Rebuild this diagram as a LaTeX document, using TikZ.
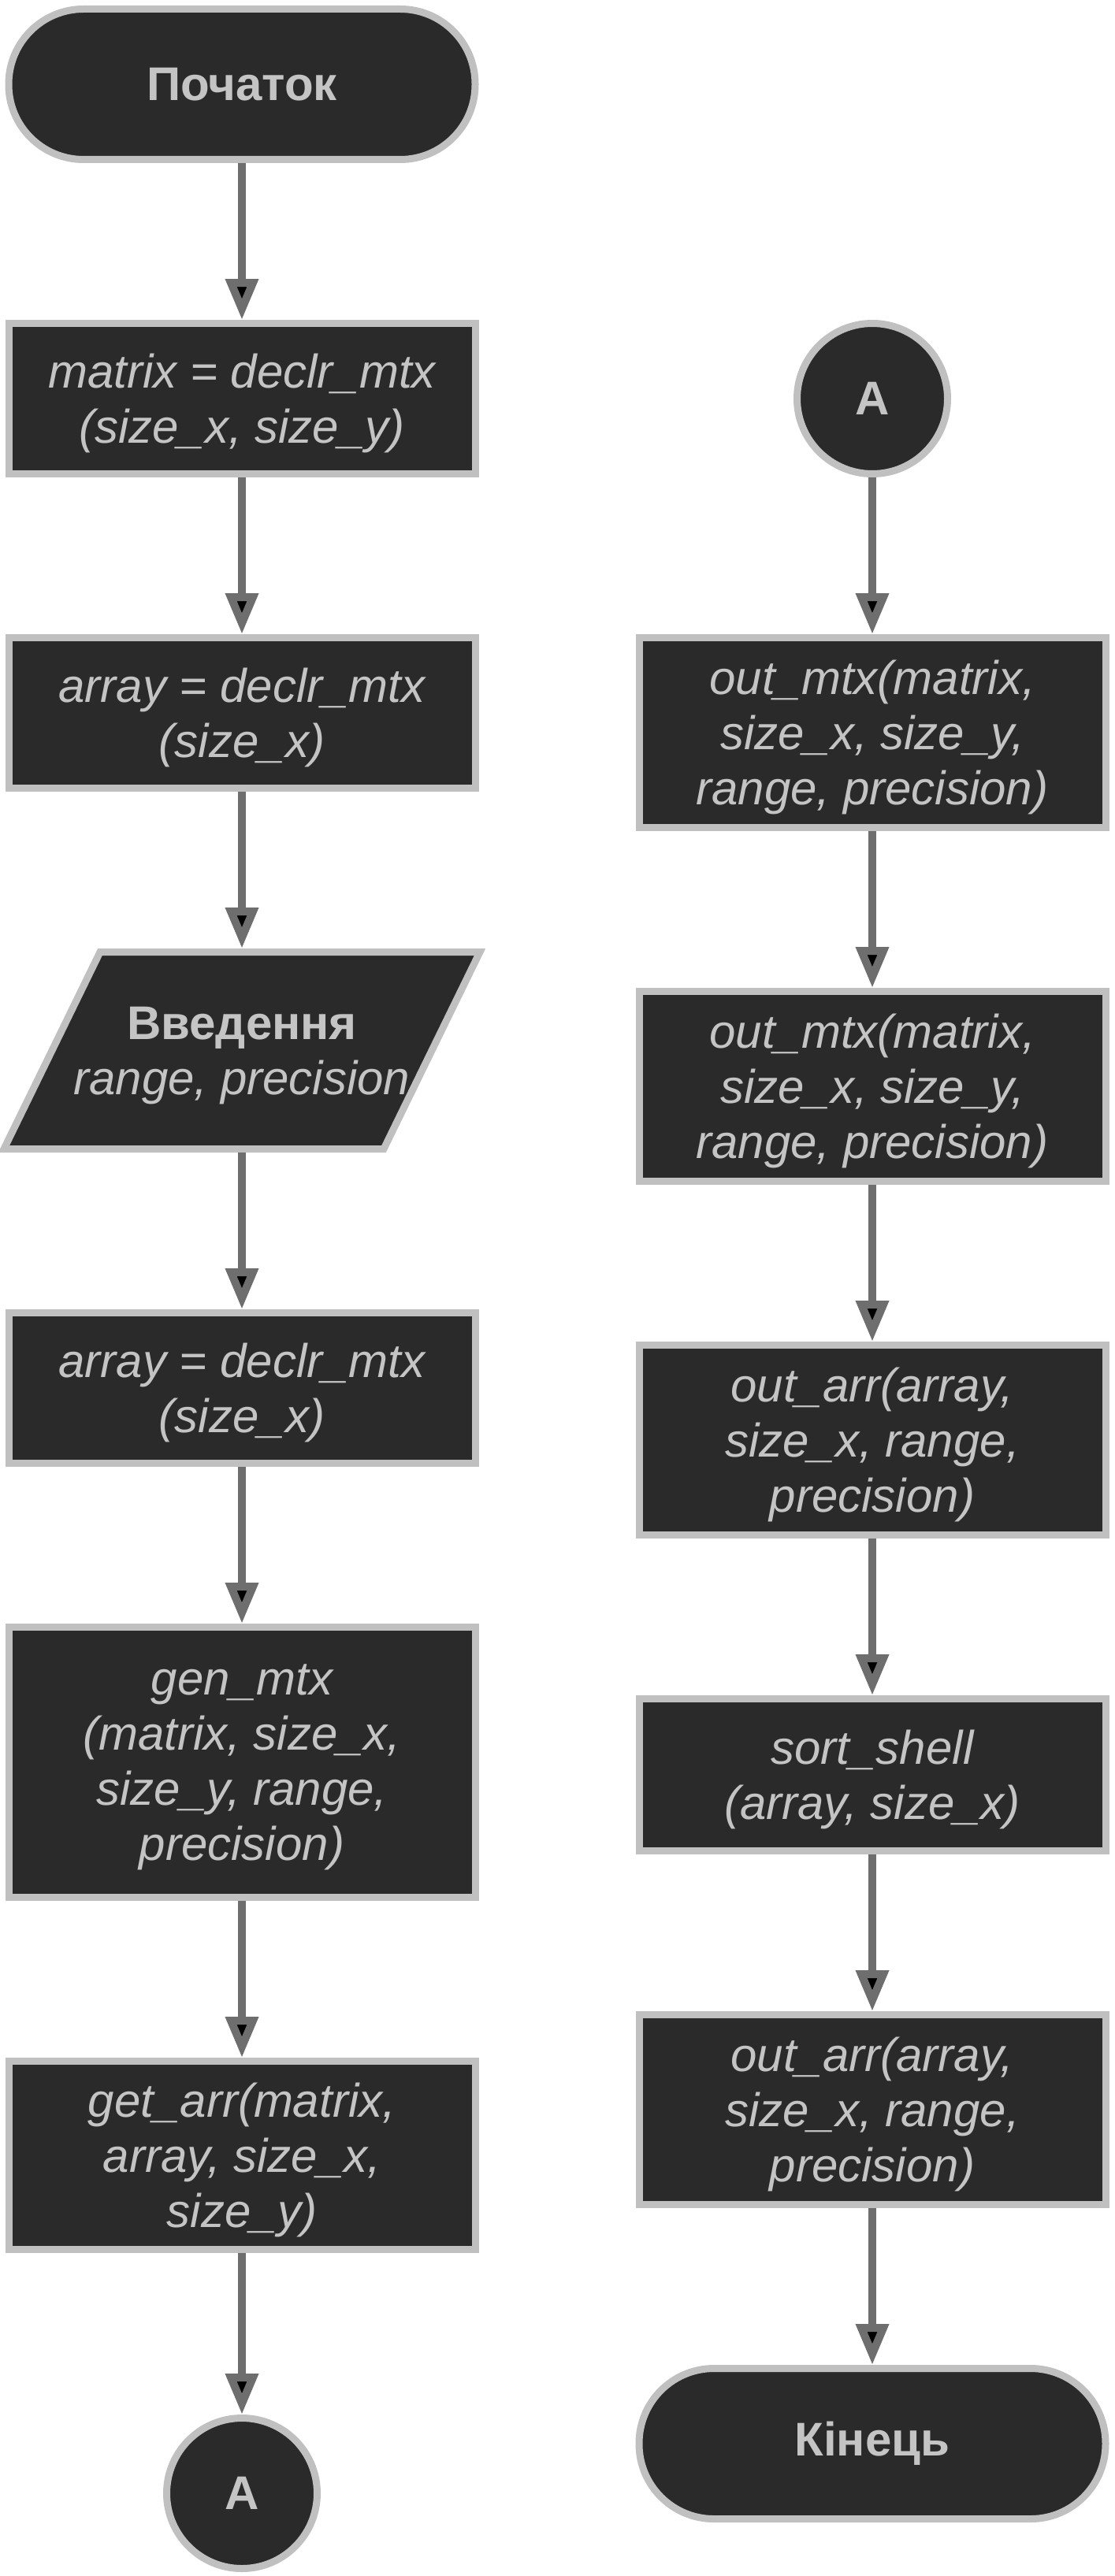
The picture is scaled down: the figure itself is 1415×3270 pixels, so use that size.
\documentclass[tikz,border=0pt]{standalone}
\usepackage{fontspec}
\setmainfont{Liberation Sans}
\usetikzlibrary{positioning,arrows.meta,backgrounds}
\definecolor{boxfill}{HTML}{2A2A2A}
\definecolor{boxline}{HTML}{C0C0C0}
\definecolor{boxtext}{HTML}{C4C4C4}
\definecolor{arrline}{HTML}{6E6E6E}
\tikzset{
	base/.style={draw=boxline,fill=boxfill,line width=9pt,text=boxtext,align=center,inner sep=0pt,
		font=\fontsize{60}{70}\selectfont\itshape},
	proc/.style={base,rectangle,minimum width=592pt,text depth=-13pt},
	term/.style={base,rectangle,rounded corners=95pt,minimum width=592pt,minimum height=191pt,
		font=\fontsize{60}{70}\selectfont\bfseries},
	conn/.style={base,circle,minimum size=191pt,font=\fontsize{60}{70}\selectfont\bfseries,text depth=-14pt},
	inout/.style={base,draw=none,fill=none,rectangle,minimum width=604pt,minimum height=250pt,text depth=-13pt},
	parabox/.style={draw=boxline,fill=boxfill,line width=9pt},
	flow/.style={-{Triangle[width=40pt,length=52pt]},line width=10pt,draw=arrline}
}
\begin{document}
\begin{tikzpicture}[x=1pt,y=1pt,node distance=199pt]
	\useasboundingbox (0,0) rectangle (1415,-3270);
	% left column
	\node[term] (start) at (307,-107) {Початок};
	\node[proc,minimum height=191pt,below=of start] (decmtx) {matrix = declr\_mtx\\(size\_x, size\_y)};
	\node[proc,minimum height=191pt,below=of decmtx] (decarr) {array = declr\_mtx\\(size\_x)};
	\node[inout,below=of decarr] (input) {{\upshape\bfseries Введення}\\range, precision};
	\node[proc,minimum height=191pt,below=of input] (decarrb) {array = declr\_mtx\\(size\_x)};
	\node[proc,minimum height=343pt,below=of decarrb] (genmtx) {gen\_mtx\\(matrix, size\_x,\\size\_y, range,\\precision)};
	\node[proc,minimum height=239pt,below=of genmtx] (getarr) {get\_arr(matrix,\\array, size\_x,\\size\_y)};
	\node[conn,below=205pt of getarr] (conA) {A};
	\begin{scope}[on background layer]
		\draw[parabox] ([shift={(-180,125)}]input.center) -- ([shift={(302,125)}]input.center)
			-- ([shift={(180,-125)}]input.center) -- ([shift={(-302,-125)}]input.center) -- cycle;
	\end{scope}
	% right column
	\node[conn] (conAb) at (1107,-506) {A};
	\node[proc,minimum height=241pt,below=of conAb] (outmtx) {out\_mtx(matrix,\\size\_x, size\_y,\\range, precision)};
	\node[proc,minimum height=241pt,below=of outmtx] (outmtxb) {out\_mtx(matrix,\\size\_x, size\_y,\\range, precision)};
	\node[proc,minimum height=241pt,below=of outmtxb] (outarr) {out\_arr(array,\\size\_x, range,\\precision)};
	\node[proc,minimum height=193pt,below=of outarr] (sort) {sort\_shell\\(array, size\_x)};
	\node[proc,minimum height=241pt,below=of sort] (outarrb) {out\_arr(array,\\size\_x, range,\\precision)};
	\node[term,below=of outarrb] (stop) {Кінець};
	\path[flow]
		(start) edge (decmtx)
		(decmtx) edge (decarr)
		(decarr) edge (input)
		(input) edge (decarrb)
		(decarrb) edge (genmtx)
		(genmtx) edge (getarr)
		(getarr) edge (conA)
		(conAb) edge (outmtx)
		(outmtx) edge (outmtxb)
		(outmtxb) edge (outarr)
		(outarr) edge (sort)
		(sort) edge (outarrb)
		(outarrb) edge (stop);
\end{tikzpicture}
\end{document}
